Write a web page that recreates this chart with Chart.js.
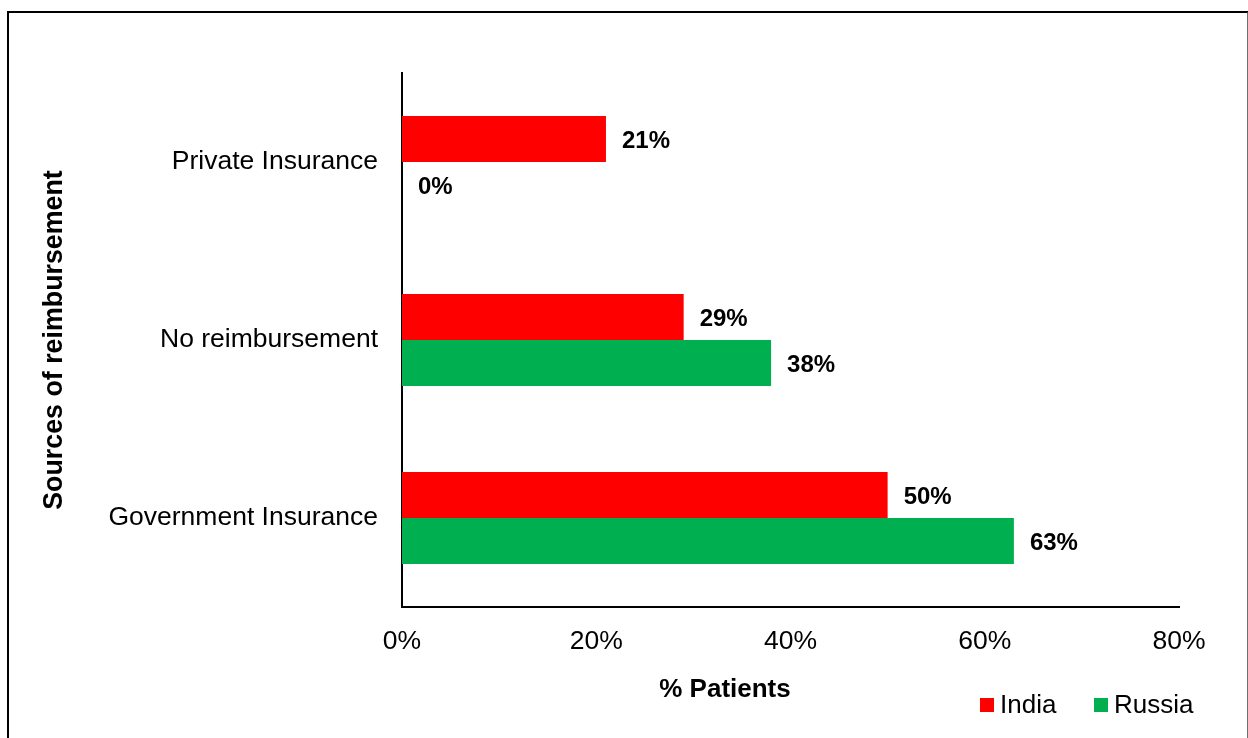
<!DOCTYPE html>
<html>
<head>
<meta charset="utf-8">
<script src="https://cdn.jsdelivr.net/npm/chart.js@4.4.1/dist/chart.umd.min.js"></script>
<style>
  html, body { margin: 0; padding: 0; background: #fff; overflow: hidden; }
  #wrap { position: relative; width: 1248px; height: 738px; }
  #frame {
    position: absolute; left: 7px; top: 11px; width: 1238px; height: 800px;
    border: 2px solid #000; border-right-color: #6f6f6f; pointer-events: none;
  }
</style>
</head>
<body>
<div id="wrap">
  <canvas id="chart"></canvas>
  <div id="frame"></div>
</div>
<script>
const categories = ["Private Insurance", "No reimbursement", "Government Insurance"];
const indiaValues = [21, 29, 50];
const russiaValues = [0, 38, 63];
const xTicks = [0, 20, 40, 60, 80];

const FONT = "'Liberation Sans', Arial, sans-serif";

// value labels to the right of each bar
const barLabels = {
  id: "barLabels",
  afterDatasetsDraw(chart) {
    const ctx = chart.ctx;
    ctx.save();
    ctx.font = `bold 24px ${FONT}`;
    ctx.fillStyle = "#000";
    ctx.textAlign = "left";
    ctx.textBaseline = "middle";
    chart.data.datasets.forEach((ds, i) => {
      chart.getDatasetMeta(i).data.forEach((bar, j) => {
        ctx.fillText(ds.data[j] + "%", bar.x + 16, bar.y + 2);
      });
    });
    ctx.restore();
  },
};

// x title and legend sit below the axis, offset to the left of centre
const footer = {
  id: "footer",
  afterDraw(chart) {
    const ctx = chart.ctx;
    ctx.save();
    ctx.fillStyle = "#000";
    ctx.textBaseline = "middle";
    ctx.textAlign = "center";
    ctx.font = `bold 26px ${FONT}`;
    ctx.fillText("% Patients", 725, 690);

    ctx.font = `26px ${FONT}`;
    ctx.textAlign = "left";
    const starts = [980, 1094];
    chart.data.datasets.forEach((ds, i) => {
      const x = starts[i];
      ctx.fillStyle = ds.backgroundColor;
      ctx.fillRect(x, 698, 14, 14);
      ctx.fillStyle = "#000";
      ctx.fillText(ds.label, x + 20, 706);
    });
    ctx.restore();
  },
};

new Chart(document.getElementById("chart"), {
  type: "bar",
  data: {
    labels: categories,
    datasets: [
      { label: "India", data: indiaValues, backgroundColor: "#FF0000" },
      { label: "Russia", data: russiaValues, backgroundColor: "#00B050" },
    ],
  },
  options: {
    indexAxis: "y",
    responsive: true,
    maintainAspectRatio: false,
    animation: false,
    layout: { padding: { left: 0, top: 73, right: 69, bottom: 0 } },
    datasets: {
      bar: { categoryPercentage: 0.517, barPercentage: 1.0 },
    },
    plugins: {
      legend: { display: false },
      tooltip: { enabled: false },
    },
    scales: {
      x: {
        min: 0,
        max: 80,
        afterBuildTicks: (scale) => {
          scale.ticks = xTicks.map((v) => ({ value: v }));
        },
        afterFit: (scale) => {
          scale.height = 131;
        },
        grid: { display: false, drawTicks: false },
        border: { display: true, color: "#000", width: 2 },
        ticks: {
          padding: 19,
          color: "#000",
          font: { family: FONT, size: 26.5 },
          maxRotation: 0,
          callback: (v) => v + "%",
        },
      },
      y: {
        afterFit: (scale) => {
          scale.width = 402;
        },
        grid: { display: false, drawTicks: false },
        border: { display: true, color: "#000", width: 2 },
        ticks: {
          padding: 24,
          color: "#000",
          font: { family: FONT, size: 26.5 },
        },
        title: {
          display: true,
          text: "Sources of reimbursement",
          color: "#000",
          font: { family: FONT, size: 26.8, weight: "bold" },
          padding: { top: 39, bottom: 0 },
        },
      },
    },
  },
  plugins: [barLabels, footer],
});
</script>
</body>
</html>
